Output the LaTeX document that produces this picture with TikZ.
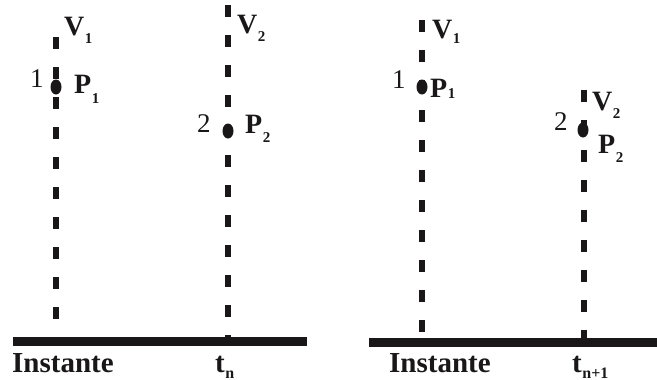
\documentclass[tikz,border=0pt]{standalone}
\usepackage{fontspec}
\setmainfont{Liberation Serif}
\definecolor{ink}{rgb}{0.1,0.09,0.09}
\newcommand\mylab[3]{\fontsize{28}{28}\selectfont\textbf{#1}\kern0.5pt\raisebox{-#3pt}{\fontsize{15}{15}\selectfont\textbf{#2}}}
\newcommand\myinst[3]{\fontsize{29}{29}\selectfont\textbf{#1}\kern0.5pt\raisebox{-#3pt}{\fontsize{16}{16}\selectfont\textbf{#2}}}
\begin{document}
\begin{tikzpicture}[x=1pt,y=-1pt,
  vline/.style={ink,line width=6.5pt,dash pattern=on 12pt off 18pt},
  bar/.style={ink,line width=9pt},
  pt/.style={ink,fill=ink},
  txt/.style={inner sep=0pt,anchor=base west,text=ink},
  num/.style={txt,font=\fontsize{27}{27}\selectfont}]
\path[use as bounding box] (0,0) rectangle (657,380);
% left panel
\coordinate (a1t) at (56,37);  \coordinate (a1b) at (56,341);
\coordinate (a2t) at (228,5);  \coordinate (a2b) at (228,341);
\coordinate (abl) at (13,341.5); \coordinate (abr) at (307,341.5);
\draw[vline] (a1t) -- (a1b);
\draw[vline] (a2t) -- (a2b);
\draw[bar] (abl) -- (abr);
\coordinate (ap1) at (56,87);
\coordinate (ap2) at (228,131);
\fill[pt] (ap1) ellipse [x radius=5.5, y radius=7.5];
\fill[pt] (ap2) ellipse [x radius=5.5, y radius=7.5];
\node[txt] (av1) at (64,35) {\mylab{V}{1}{8}};
\node[txt] (alp1) at (74,93) {\mylab{P}{1}{10}};
\node[num] (an1) at (30,87) {1};
\node[txt] (av2) at (237,33) {\mylab{V}{2}{9}};
\node[txt] (alp2) at (245,133) {\mylab{P}{2}{9}};
\node[num] (an2) at (197,132) {2};
\node[txt,font=\fontsize{29}{29}\selectfont\bfseries] (ainst) at (12,372) {Instante};
\node[txt] (atn) at (215,372) {\myinst{t}{n}{6}};
% right panel
\coordinate (b1t) at (422,20);  \coordinate (b1b) at (422,342);
\coordinate (b2t) at (584,90);  \coordinate (b2b) at (584,342);
\coordinate (bbl) at (369,342); \coordinate (bbr) at (657,342);
\draw[vline] (b1t) -- (b1b);
\draw[vline] (b2t) -- (b2b);
\draw[bar] (bbl) -- (bbr);
\coordinate (bp1) at (422,87);
\coordinate (bp2) at (583,130);
\fill[pt] (bp1) ellipse [x radius=5.5, y radius=7.5];
\fill[pt] (bp2) ellipse [x radius=5.5, y radius=7.5];
\node[txt] (bv1) at (432,38) {\mylab{V}{1}{5}};
\node[txt] (blp1) at (430,97) {\mylab{P}{1}{1}};
\node[num] (bn1) at (392,88) {1};
\node[txt] (bv2) at (592,110) {\mylab{V}{2}{9}};
\node[txt] (blp2) at (598,153) {\mylab{P}{2}{9}};
\node[num] (bn2) at (554,130) {2};
\node[txt,font=\fontsize{29}{29}\selectfont\bfseries] (binst) at (389,372) {Instante};
\node[txt] (btn) at (572,372) {\myinst{t}{n+1}{6}};
\end{tikzpicture}
\end{document}
